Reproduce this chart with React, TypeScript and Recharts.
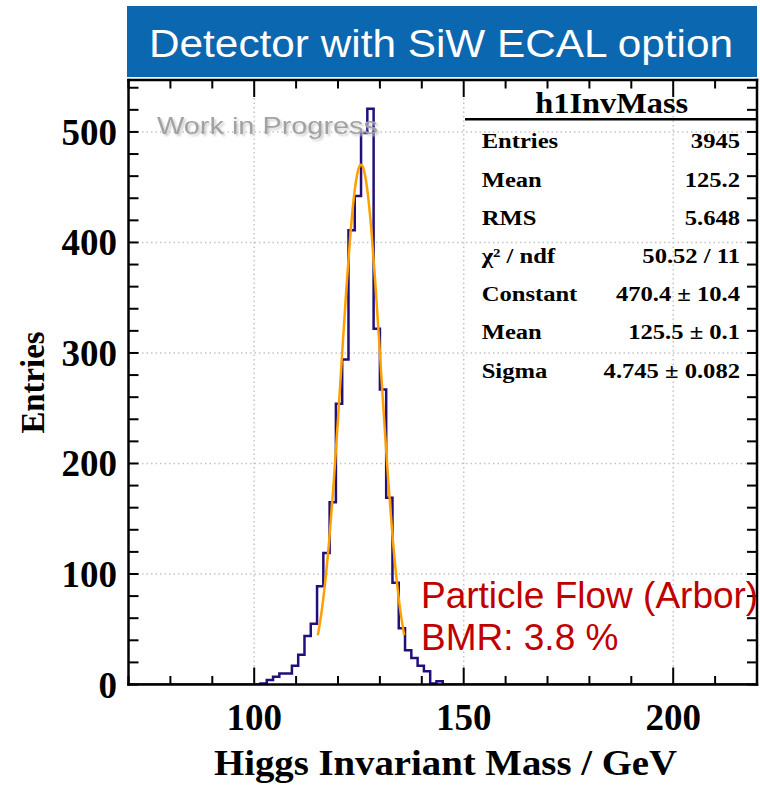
import React from 'react';
import { ComposedChart, Line, XAxis, YAxis, ReferenceLine } from 'recharts';

// ---------- data ----------
const X_DOMAIN: [number, number] = [70, 220];
const Y_DOMAIN: [number, number] = [0, 547];
const X_TICKS = [70, 80, 90, 100, 110, 120, 130, 140, 150, 160, 170, 180, 190, 200, 210, 220];
const X_MAJOR = [100, 150, 200];
const Y_TICKS = [0, 20, 40, 60, 80, 100, 120, 140, 160, 180, 200, 220, 240, 260, 280, 300, 320, 340, 360, 380, 400, 420, 440, 460, 480, 500, 520, 540];
const Y_MAJOR = [0, 100, 200, 300, 400, 500];

const HIST_START = 70;
const HIST_END = 220;
const binLowEdges = [101.5, 103, 104.5, 106, 107.5, 109, 110.5, 112, 113.5, 115, 116.5, 118, 119.5, 121, 122.5, 124, 125.5, 127, 128.5, 130, 131.5, 133, 134.5, 136, 137.5, 139, 140.5, 142, 143.5, 145];
const binCounts = [1, 4, 7, 10, 10, 17, 27, 44, 55, 89, 119, 165, 254, 294, 411, 442, 499, 521, 322, 267, 169, 92, 51, 31, 24, 17, 12, 1, 3, 0];

const fitX = [115.2, 116, 117, 118, 119, 120, 121, 122, 123, 124, 125, 125.5, 126, 127, 128, 129, 130, 131, 132, 133, 134, 135, 135.8];
const fitY = [44.6, 63.4, 94.6, 134.9, 184.1, 240.3, 300.0, 358.4, 409.4, 447.5, 467.8, 470.4, 467.8, 447.5, 409.4, 358.4, 300.0, 240.3, 184.1, 134.9, 94.6, 63.4, 44.6];

const statsLabels = ['Entries', 'Mean', 'RMS', 'χ² / ndf', 'Constant', 'Mean', 'Sigma'];
const statsValues = ['3945', '125.2', '5.648', '50.52 / 11', '470.4 ± 10.4', '125.5 ± 0.1', '4.745 ± 0.082'];

const histData = [
  { x: HIST_START, y: 0 },
  ...binLowEdges.map((e, i) => ({ x: e, y: binCounts[i] })),
  { x: HIST_END, y: 0 },
];
const fitData = fitX.map((x, i) => ({ x, y: fitY[i] }));

// ---------- styles ----------
const SERIF = "'Liberation Serif', 'Times New Roman', serif";
const SANS = "'Liberation Sans', Arial, sans-serif";
const HIST_COLOR = '#21107a';
const FIT_COLOR = '#ffa000';
const FRAME = { stroke: '#000', strokeWidth: 2.5, strokeLinecap: 'square' as const };
const GRID = { stroke: '#c4c4c4', strokeWidth: 1.5, strokeDasharray: '1.5 3' };

const BottomTick = (p: any) => {
  const v = p.payload.value;
  const major = X_MAJOR.includes(v);
  return (
    <g>
      <line x1={p.x} x2={p.x} y1={p.y} y2={p.y - (major ? 17 : 8.5)} stroke="#000" strokeWidth={2} />
      {major && (
        <text x={p.x} y={p.y + 45.5} textAnchor="middle" fontFamily={SERIF} fontWeight="bold" fontSize={37} fill="#000">
          {v}
        </text>
      )}
    </g>
  );
};
const TopTick = (p: any) => {
  const v = p.payload.value;
  const major = X_MAJOR.includes(v);
  return <line x1={p.x} x2={p.x} y1={p.y} y2={p.y + (major ? 17 : 8.5)} stroke="#000" strokeWidth={2} />;
};
const LeftTick = (p: any) => {
  const v = p.payload.value;
  const major = Y_MAJOR.includes(v);
  return (
    <g>
      <line x1={p.x} x2={p.x + 10} y1={p.y} y2={p.y} stroke="#000" strokeWidth={2} />
      {major && (
        <text x={p.x - 11.5} y={p.y + 13} textAnchor="end" fontFamily={SERIF} fontWeight="bold" fontSize={37} fill="#000">
          {v}
        </text>
      )}
    </g>
  );
};
const RightTick = (p: any) => (
  <line x1={p.x} x2={p.x - 10} y1={p.y} y2={p.y} stroke="#000" strokeWidth={2} />
);

export default function App() {
  return (
    <div style={{ position: 'absolute', left: 0, top: 0, width: 760, height: 786, background: '#fff' }}>
      <ComposedChart width={760} height={786} margin={{ top: 79, right: 2, bottom: 41.5, left: 68.5 }}>
        <XAxis xAxisId="b" type="number" dataKey="x" domain={X_DOMAIN} ticks={X_TICKS} interval={0}
          allowDataOverflow orientation="bottom" height={60} tickSize={0} tickMargin={0} tickLine={false}
          axisLine={FRAME} tick={(p: any) => <BottomTick {...p} />} />
        <XAxis xAxisId="t" type="number" dataKey="x" domain={X_DOMAIN} ticks={X_TICKS} interval={0}
          allowDataOverflow orientation="top" height={1} tickSize={0} tickMargin={0} tickLine={false}
          axisLine={FRAME} tick={(p: any) => <TopTick {...p} />} />
        <YAxis yAxisId="l" type="number" domain={Y_DOMAIN} ticks={Y_TICKS} interval={0}
          allowDataOverflow orientation="left" width={60} tickSize={0} tickMargin={0} tickLine={false}
          axisLine={FRAME} tick={(p: any) => <LeftTick {...p} />} />
        <YAxis yAxisId="r" type="number" domain={Y_DOMAIN} ticks={Y_TICKS} interval={0}
          allowDataOverflow orientation="right" width={1} tickSize={0} tickMargin={0} tickLine={false}
          axisLine={FRAME} tick={(p: any) => <RightTick {...p} />} />
        {X_MAJOR.map((v) => (
          <ReferenceLine key={'gx' + v} xAxisId="b" yAxisId="l" x={v} {...GRID} />
        ))}
        {Y_MAJOR.filter((v) => v > 0).map((v) => (
          <ReferenceLine key={'gy' + v} xAxisId="b" yAxisId="l" y={v} {...GRID} />
        ))}
        <Line xAxisId="b" yAxisId="l" data={histData} dataKey="y" type="stepAfter" stroke={HIST_COLOR}
          strokeWidth={2.5} dot={false} activeDot={false} isAnimationActive={false} />
        <Line xAxisId="t" yAxisId="r" data={fitData} dataKey="y" type="monotone" stroke={FIT_COLOR}
          strokeWidth={2.5} dot={false} activeDot={false} isAnimationActive={false} />
      </ComposedChart>

      <svg width={760} height={786} style={{ position: 'absolute', left: 0, top: 0, pointerEvents: 'none' }}>
        <defs>
          <filter id="wipShadow" x="-10%" y="-30%" width="120%" height="160%">
            <feDropShadow dx="2" dy="2" stdDeviation="1" floodColor="#cfcfcf" floodOpacity="1" />
          </filter>
        </defs>
        {/* title banner */}
        <rect x={127} y={6} width={630} height={71} fill="#0b67b0" />
        <text x={149} y={56.7} fill="#fff" fontFamily={SANS} fontSize={38} textLength={584} lengthAdjust="spacingAndGlyphs">
          Detector with SiW ECAL option
        </text>

        {/* work in progress */}
        <text x={157} y={133.5} fill="#a2a2a2" filter="url(#wipShadow)" fontFamily={SANS} fontSize={24} textLength={221} lengthAdjust="spacingAndGlyphs">
          Work in Progress
        </text>

        {/* stats box */}
        <text x={611.7} y={113.3} textAnchor="middle" fontFamily={SERIF} fontWeight="bold" fontSize={30} textLength={153} lengthAdjust="spacingAndGlyphs">
          h1InvMass
        </text>
        <line x1={465} x2={757} y1={119.3} y2={119.3} stroke="#000" strokeWidth={2.5} />
        {statsLabels.map((s, i) => (
          <text key={'sl' + i} transform={`translate(481.7, ${148.3 + 38.2 * i}) scale(1.2, 1)`} fontFamily={SERIF} fontWeight="bold" fontSize={20.5}>
            {s}
          </text>
        ))}
        {statsValues.map((s, i) => (
          <text key={'sv' + i} transform={`translate(740, ${148.3 + 38.2 * i}) scale(1.2, 1)`} textAnchor="end" fontFamily={SERIF} fontWeight="bold" fontSize={20.5}>
            {s}
          </text>
        ))}

        {/* axis titles */}
        <text x={214} y={775} fontFamily={SERIF} fontWeight="bold" fontSize={36} textLength={463} lengthAdjust="spacingAndGlyphs">
          Higgs Invariant Mass / GeV
        </text>
        <text transform="translate(44, 382.5) rotate(-90)" textAnchor="middle" fontFamily={SERIF} fontWeight="bold" fontSize={33} textLength={102} lengthAdjust="spacingAndGlyphs">
          Entries
        </text>

        {/* annotation */}
        <text x={421} y={608} fill="#c00000" fontFamily={SANS} fontSize={37}>Particle Flow (Arbor)</text>
        <text x={421} y={650} fill="#c00000" fontFamily={SANS} fontSize={37}>BMR: 3.8 %</text>
      </svg>
    </div>
  );
}
